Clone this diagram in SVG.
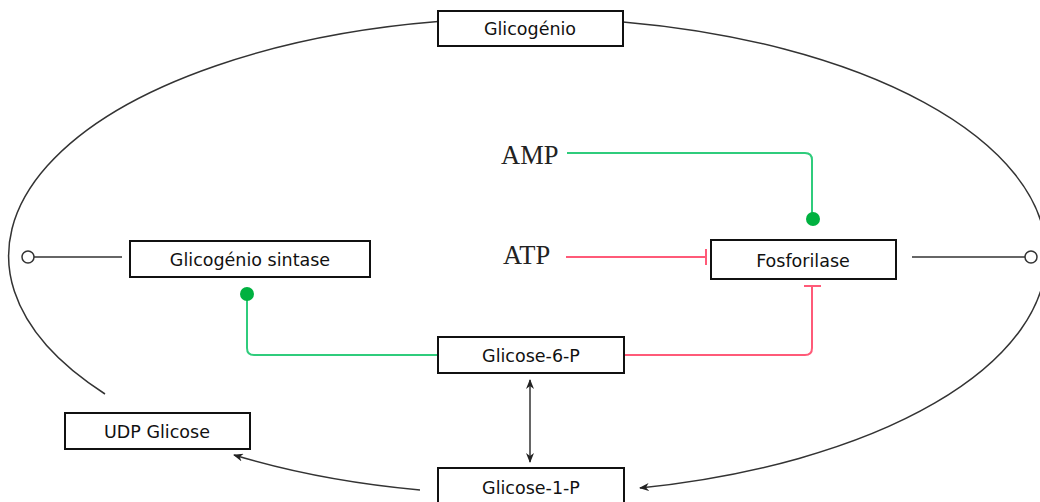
<svg xmlns="http://www.w3.org/2000/svg" width="1040" height="502" viewBox="0 0 1040 502">
<style>
.box{fill:#fff;stroke:#111;stroke-width:2}
.lbl{font-family:"DejaVu Sans",sans-serif;font-size:17.5px;fill:#111;text-anchor:middle}
.ser{font-family:"Liberation Serif",serif;font-size:26.5px;fill:#222}
.arc{fill:none;stroke:#333;stroke-width:1.5}
.grn{fill:none;stroke:#2fcc7c;stroke-width:2}
.red{fill:none;stroke:#ff5a78;stroke-width:2}
</style>
<defs>
<marker id="ah" viewBox="0 0 10 8" refX="9" refY="4" markerWidth="10" markerHeight="8" markerUnits="userSpaceOnUse" orient="auto-start-reverse">
<path d="M0,0 L10,4 L0,8 L3,4 z" fill="#222"/>
</marker>
</defs>
<g id="connectors">
<path class="arc" d="M438,21.6 A520 238 0 0 0 105,394"/>
<path class="arc" d="M623,21.9 A520 238 0 0 1 640,488" marker-end="url(#ah)"/>
<path class="arc" d="M420,490 A520 238 0 0 1 234,455" marker-end="url(#ah)"/>
<line class="arc" x1="530" y1="380" x2="530" y2="462" marker-start="url(#ah)" marker-end="url(#ah)"/>
<line class="arc" x1="34" y1="257" x2="122" y2="257"/>
<circle cx="28" cy="257" r="6" fill="#fff" stroke="#333" stroke-width="1.5"/>
<line class="arc" x1="912" y1="257" x2="1025" y2="257"/>
<circle cx="1031" cy="257" r="6" fill="#fff" stroke="#333" stroke-width="1.5"/>
<path class="grn" d="M567,153 H805 Q812,153 812,160 V214"/>
<circle cx="813" cy="219" r="7" fill="#00b140"/>
<path class="grn" d="M438,355 H254 Q247,355 247,348 V298"/>
<circle cx="247" cy="294" r="7" fill="#00b140"/>
<path class="red" d="M566,257 H706"/>
<line class="red" x1="706" y1="249" x2="706" y2="265"/>
<path class="red" d="M624,355 H805 Q812,355 812,348 V286"/>
<line class="red" x1="804" y1="286" x2="821" y2="286"/>
</g>
<g id="glicogenio"><rect class="box" x="438" y="11" width="185" height="35"/><text class="lbl" x="530" y="35">Glicogénio</text></g>
<g id="sintase"><rect class="box" x="130" y="241" width="240" height="36"/><text class="lbl" x="250" y="266">Glicogénio sintase</text></g>
<g id="fosforilase"><rect class="box" x="711" y="240" width="185" height="39"/><text class="lbl" x="803" y="267">Fosforilase</text></g>
<g id="g6p"><rect class="box" x="438" y="337" width="186" height="36"/><text class="lbl" x="531" y="362">Glicose-6-P</text></g>
<g id="g1p"><rect class="box" x="438" y="468" width="186" height="40"/><text class="lbl" x="531" y="494">Glicose-1-P</text></g>
<g id="udp"><rect class="box" x="65" y="413" width="185" height="36"/><text class="lbl" x="157" y="438">UDP Glicose</text></g>
<g id="amp"><text class="ser" x="501" y="164">AMP</text></g>
<g id="atp"><text class="ser" x="503" y="264">ATP</text></g>
</svg>
